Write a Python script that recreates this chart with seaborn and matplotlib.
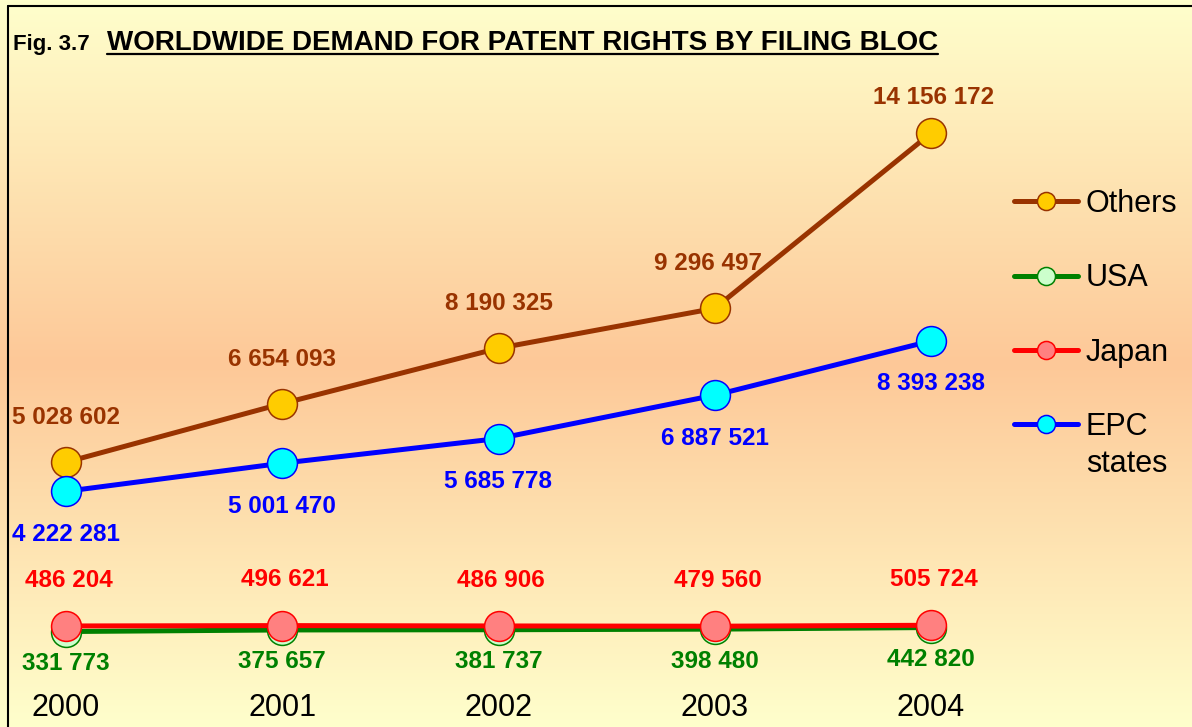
""" Worldwide demand for patent rights by filing bloc (Fig. 3.7). """
import numpy as np
import pandas as pd
import seaborn as sns
import matplotlib.pyplot as plt
from matplotlib.lines import Line2D
from matplotlib.colors import to_rgb

sns.set_style("white")
plt.rcParams['font.family'] = ['Liberation Sans', 'DejaVu Sans']
plt.rcParams['text.color'] = 'black'
plt.rcParams['xtick.color'] = 'black'

# data
years = [2000, 2001, 2002, 2003, 2004]
blocs = ["Others", "USA", "Japan", "EPC states"]
others = [5028602, 6654093, 8190325, 9296497, 14156172]
usa = [331773, 375657, 381737, 398480, 442820]
japan = [486204, 496621, 486906, 479560, 505724]
epc = [4222281, 5001470, 5685778, 6887521, 8393238]
legend_labels = ["Others", "USA", "Japan", "EPC"]
legend_extra = "states"

df = pd.DataFrame({
    "year": years * 4,
    "bloc": [b for b in blocs for _ in years],
    "filings": others + usa + japan + epc,
})

# styles: line colour, marker fill, label colour, label offsets (points)
styles = {
    "Others": dict(line="#993300", fill="#FFCC00", text="#993300",
                   off=[(0, 32), (0, 32), (0, 32), (-5, 32), (2, 26)]),
    "USA": dict(line="#008000", fill="#CCFFCC", text="#008000",
                off=[(0, -23)] * 5),
    "Japan": dict(line="#FF0000", fill="#FF8080", text="#FF0000",
                  off=[(2, 33)] * 5),
    "EPC states": dict(line="#0000FF", fill="#00FFFF", text="#0000FF",
                       off=[(0, -31)] * 5),
}

W, H = 1192, 727
fig = plt.figure(figsize=(W / 100, H / 100), dpi=100)

# gradient background: pale yellow at the edges, tan in the middle
bg = fig.add_axes([0, 0, 1, 1], zorder=0)
t = np.abs(np.linspace(-1, 1, 400))[:, None]
c_edge = np.array(to_rgb("#FFFFCC"))
c_mid = np.array(to_rgb("#FDC898"))
grad = c_mid + (c_edge - c_mid) * t[..., None]
grad = np.repeat(grad, 2, axis=1)
bg.imshow(grad, aspect="auto", extent=[0, 1, 0, 1])
bg.set_axis_off()

ax = fig.add_axes([0, 47 / H, 1, 1 - 47 / H], zorder=1)
ax.patch.set_alpha(0)

for bloc in blocs:
    s = styles[bloc]
    sub = df[df["bloc"] == bloc]
    sns.lineplot(data=sub, x="year", y="filings", ax=ax, color=s["line"],
                 lw=3.6, marker="o", ms=21.5, mfc=s["fill"], mec=s["line"],
                 mew=1.1, legend=False)
    for (x, y), (dx, dy) in zip(zip(sub["year"], sub["filings"]), s["off"]):
        ax.annotate(f"{y:,}".replace(",", " "), (x, y), xytext=(dx, dy),
                    textcoords="offset points", ha="center", va="center",
                    fontsize=17.5, fontweight="bold", color=s["text"])

px_per_year = 216.25
px_per_unit = 36.05e-6
x0_px, zero_px = 66, 643.5
ax.set_xlim(2000 - x0_px / px_per_year, 2000 + (W - x0_px) / px_per_year)
ax.set_ylim(-(680 - zero_px) / px_per_unit, zero_px / px_per_unit)
ax.set_xticks(years)
ax.set_xticklabels([str(y) for y in years], fontsize=22, color="black")
ax.set_yticks([])
ax.tick_params(axis="x", length=0, pad=9)
ax.set_xlabel("")
ax.set_ylabel("")
for sp in ax.spines.values():
    sp.set_visible(False)

handles = [Line2D([], [], color=styles[b]["line"], lw=3.6, marker="o", ms=13,
                  mfc=styles[b]["fill"], mec=styles[b]["line"], mew=1.1)
           for b in blocs]
leg = ax.legend(handles, legend_labels, loc="upper left", frameon=False,
                bbox_to_anchor=(1014 / W, 1 - 189 / H),
                bbox_transform=fig.transFigure, borderaxespad=0, borderpad=0,
                fontsize=22, handlelength=2.1, handletextpad=0.25,
                labelspacing=1.45, labelcolor="black")

# title
fig.text(13 / W, 1 - 50 / H, "Fig. 3.7", fontsize=16, fontweight="bold",
         va="baseline")
title = fig.text(107 / W, 1 - 50 / H,
                 "WORLDWIDE DEMAND FOR PATENT RIGHTS BY FILING BLOC",
                 fontsize=20, fontweight="bold", va="baseline")
fig.canvas.draw()
bb = title.get_window_extent()
fig.add_artist(Line2D([bb.x0 / W, bb.x1 / W], [1 - 54 / H, 1 - 54 / H],
                      color="black", lw=1.6, transform=fig.transFigure))

# second line of the "EPC states" legend entry
tb = leg.get_texts()[-1].get_window_extent()
fig.text(tb.x0 / W, (tb.y0 - 37) / H + (tb.y1 - tb.y0) / (2 * H), legend_extra,
         fontsize=22, va="center", color="black")

# frame (top and left edges visible)
fig.add_artist(Line2D([8 / W, 8 / W], [0, 1 - 6 / H], color="black", lw=1.5,
                      transform=fig.transFigure))
fig.add_artist(Line2D([8 / W, 1], [1 - 6 / H, 1 - 6 / H], color="black",
                      lw=1.5, transform=fig.transFigure))

fig.savefig("out.png", dpi=100)
